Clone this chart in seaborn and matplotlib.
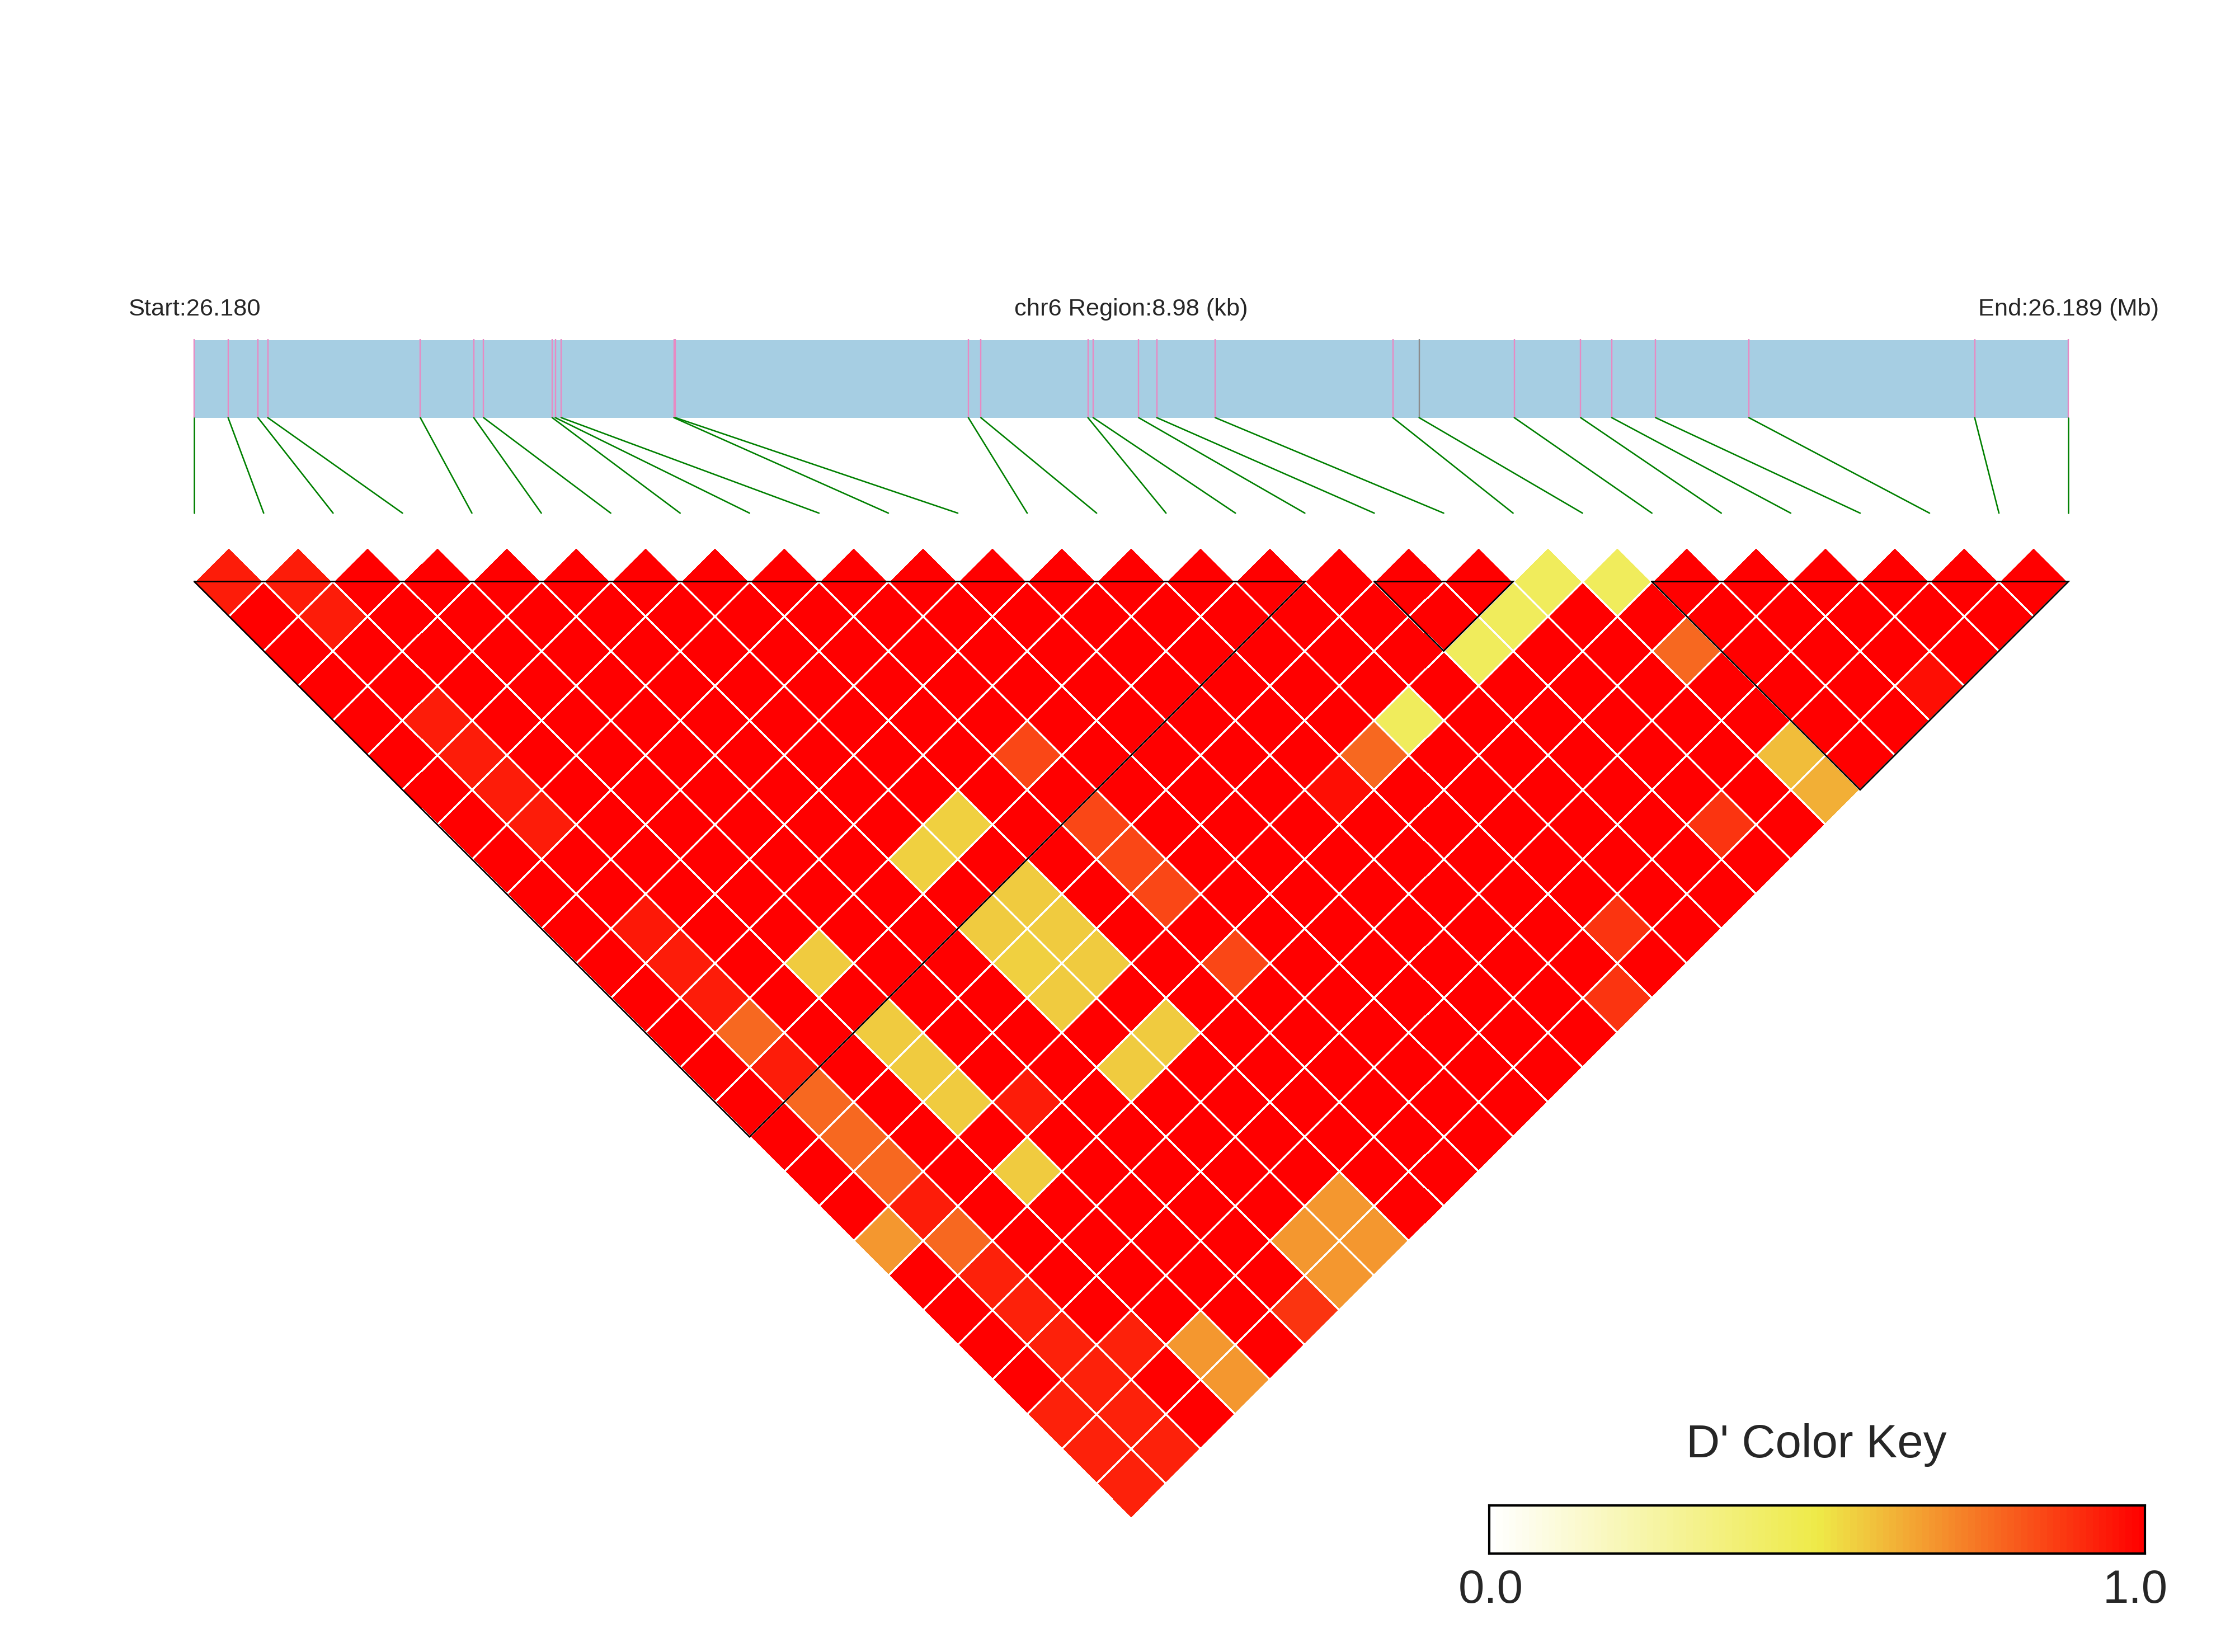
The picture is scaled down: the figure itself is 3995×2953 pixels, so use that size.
import numpy as np
import pandas as pd
import matplotlib
matplotlib.use("Agg")
import matplotlib.pyplot as plt
import seaborn as sns
from matplotlib.colors import LinearSegmentedColormap
from matplotlib.transforms import Affine2D

# SNP positions on chr6 (bp)
snp_pos = [26180120, 26180282, 26180425, 26180472, 26181203, 26181459, 26181506,
           26181835, 26181850, 26181878, 26182418, 26182425, 26183829, 26183889,
           26184402, 26184427, 26184645, 26184732, 26185012, 26185863, 26185989,
           26186445, 26186763, 26186912, 26187122, 26187569, 26188651, 26189100]
snp_marker = ["#e78ac3"] * 20 + ["#8c8c8c"] + ["#e78ac3"] * 7
region_start = 26180120
region_end = 26189100

# haplotype blocks (first SNP, last SNP)
blocks = [(0, 16), (17, 19), (21, 27)]

# pairs whose D' is below 1 (i, j, D'); every other pair is 1.0
weak_pairs = [
    (0, 1, 0.93), (1, 2, 0.93), (1, 3, 0.93),
    (1, 6, 0.93), (1, 7, 0.93), (1, 8, 0.93), (1, 9, 0.93),
    (1, 12, 0.94), (1, 13, 0.93), (1, 14, 0.93), (1, 15, 0.77), (1, 16, 0.93),
    (1, 17, 0.77), (1, 18, 0.77), (1, 19, 0.77), (1, 20, 0.93), (1, 21, 0.77),
    (1, 22, 0.92), (1, 23, 0.92), (1, 24, 0.92), (1, 25, 0.92), (1, 26, 0.92), (1, 27, 0.92),
    (0, 20, 0.67), (0, 25, 0.92), (0, 26, 0.92), (0, 27, 0.92), (2, 25, 0.92),
    (3, 15, 0.57), (3, 17, 0.57), (3, 18, 0.57), (3, 19, 0.57), (3, 21, 0.57),
    (6, 15, 0.55), (7, 15, 0.55), (6, 17, 0.57), (7, 17, 0.56), (6, 18, 0.55),
    (7, 18, 0.57), (6, 19, 0.57), (7, 19, 0.56), (6, 21, 0.57), (7, 21, 0.57),
    (3, 26, 0.67), (3, 27, 0.67), (6, 26, 0.67), (7, 26, 0.67), (6, 27, 0.67), (7, 27, 0.67),
    (5, 27, 0.88), (4, 20, 0.93),
    (9, 15, 0.84), (9, 17, 0.84), (9, 18, 0.84), (9, 19, 0.84), (9, 21, 0.84),
    (13, 20, 0.96), (14, 20, 0.77), (15, 20, 0.44), (17, 20, 0.44), (18, 20, 0.44),
    (19, 20, 0.44), (20, 21, 0.44), (20, 23, 0.77), (20, 26, 0.59), (20, 27, 0.62),
    (18, 26, 0.88), (15, 26, 0.88), (14, 27, 0.88), (23, 27, 0.96),
]

header_left = "Start:26.180"
header_mid = "chr6 Region:8.98 (kb)"
header_right = "End:26.189 (Mb)"
key_title = "D' Color Key"
key_ticks = ["0.0", "1.0"]

sns.set_style("white")
plt.rcParams["font.family"] = ["Liberation Sans", "DejaVu Sans"]

cmap = LinearSegmentedColormap.from_list(
    "dprime", [(0.0, "#ffffff"), (0.5, "#eeea48"), (1.0, "#ff0000")], N=100)

n = len(snp_pos)
dprime = pd.DataFrame(1.0, index=range(n), columns=range(n))
for i, j, d in weak_pairs:
    dprime.loc[i, j] = d
mask = np.tril(np.ones((n, n), dtype=bool))

# layout (reference is 1568 x 1159 at the shrunk scale; SNP spacing = 1 unit)
W, H = 1568, 1159
unit = (1451.1 - 136.3) / (n - 1)
x_left = 136.3
y_base = 408.0
bar_top = (y_base - 238.5) / unit
bar_bot = (y_base - 293.0) / unit
link_bot = (y_base - 360.0) / unit
text_y = (y_base - 221.4) / unit

fig = plt.figure(figsize=(3995 / 250, 2953 / 250), dpi=250)
ax = fig.add_axes([0, 0, 1, 1])

sns.heatmap(dprime, mask=mask, cmap=cmap, vmin=0, vmax=1, cbar=False,
            linewidths=0.6, linecolor="white", ax=ax)
# rotate the upper triangle by 45 degrees so pair (i, j) sits under SNPs i..j
mesh = ax.collections[0]
rot = Affine2D.from_values(0.5, -0.5, 0.5, 0.5, -0.5, 0.5)
mesh.set_transform(rot + ax.transData)

# block outlines
for a, b in blocks:
    ax.plot([a, (a + b) / 2, b, a], [0, -(b - a) / 2, 0, 0], color="black", lw=0.8,
            solid_joinstyle="miter")

# region bar with SNP ticks and links to the matrix
gx = [(p - region_start) / (region_end - region_start) * (n - 1) for p in snp_pos]
ax.fill_between([0, n - 1], bar_bot, bar_top, color="#a6cee3", lw=0)
ax.vlines(gx, bar_bot, bar_top + 0.01, colors=snp_marker, lw=0.7)
for k, x in enumerate(gx):
    ax.plot([x, k], [bar_bot, link_bot], color="#008000", lw=0.75)

ax.text(0, text_y, header_left, ha="center", va="baseline", fontsize=12.5)
ax.text((n - 1) / 2, text_y, header_mid, ha="center", va="baseline", fontsize=12.5)
ax.text(n - 1, text_y, header_right, ha="center", va="baseline", fontsize=12.5)

ax.set_xlim(-x_left / unit, (W - x_left) / unit)
ax.set_ylim(-(H - y_base) / unit, y_base / unit)
ax.axis("off")

# colour key
kax = fig.add_axes([1045 / W, 1 - 1090 / H, 460 / W, 34 / H])
steps = np.linspace(0.005, 0.995, 100).reshape(1, -1)
sns.heatmap(steps, cmap=cmap, vmin=0, vmax=1, cbar=False, ax=kax,
            xticklabels=False, yticklabels=False)
for sp in kax.spines.values():
    sp.set_visible(True)
    sp.set_color("black")
    sp.set_linewidth(1.2)

fig.text(1274.5 / W, 1 - 1022.4 / H, key_title, ha="center", va="baseline", fontsize=24)
fig.text(1046 / W, 1 - 1124.5 / H, key_ticks[0], ha="center", va="baseline", fontsize=24)
fig.text(1498 / W, 1 - 1124.5 / H, key_ticks[1], ha="center", va="baseline", fontsize=24)

fig.savefig("out.png", dpi=250)
